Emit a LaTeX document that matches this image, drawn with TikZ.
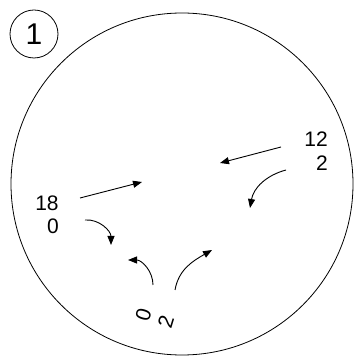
\documentclass[tikz,border=0pt]{standalone}
\usepackage{fontspec}
\setmainfont{Liberation Sans}
\usepackage{tikz}
\usetikzlibrary{arrows.meta}

\begin{document}
\begin{tikzpicture}[x=1pt, y=1pt,
        lbl/.style={align=right, inner sep=0pt, font=\fontsize{21}{23.5}\selectfont},
        arr/.style={-{Triangle[length=9pt,width=7pt]}, line width=0.9pt},
        ring/.style={draw, circle, line width=0.8pt, inner sep=0pt},
    ]
        \useasboundingbox (0,0) rectangle (356,358);

        % dial and its number
        \node[ring, minimum size=342pt] (dial) at (182,174) {};
        \node[ring, minimum size=48pt, font=\fontsize{30}{30}\selectfont] (num) at (34,324) {1};

        % labels
        \node[lbl] (lft) at (47,143) {18\\0};
        \node[lbl] (rgt) at (316,207) {12\\2};
        \node[lbl, align=center, rotate=73] (bot) at (154.5,39.5) {0\\2};

        % arrow ends
        \coordinate (a1) at (80,160);  \coordinate (b1) at (142,176);
        \coordinate (a2) at (281,211); \coordinate (b2) at (220,195);
        \coordinate (a3) at (286,188); \coordinate (b3) at (250,150);
        \coordinate (a4) at (85,138);  \coordinate (b4) at (111,113);
        \coordinate (a5) at (153,73);  \coordinate (b5) at (128,98);
        \coordinate (a6) at (175,68);  \coordinate (b6) at (212,108);

        \draw[arr] (a1) -- (b1);
        \draw[arr] (a2) -- (b2);
        \draw[arr] (a3) to[out=195, in=80] (b3);
        \draw[arr] (a4) to[out=5, in=90] (b4);
        \draw[arr] (a5) to[out=90, in=0] (b5);
        \draw[arr] (a6) to[out=80, in=210] (b6);
    \end{tikzpicture}
\end{document}
